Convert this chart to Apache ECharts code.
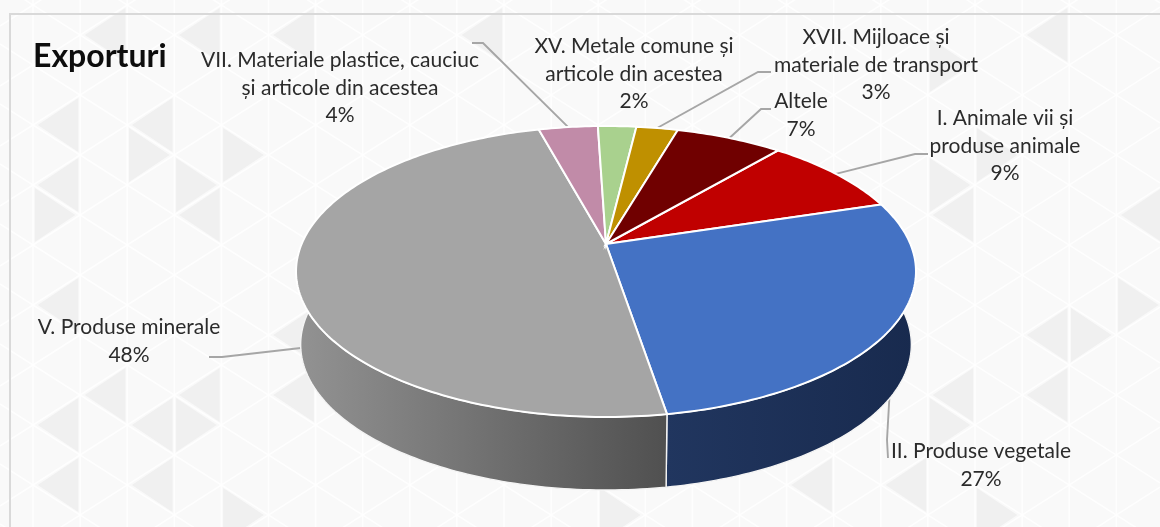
<!DOCTYPE html>
<html>
<head>
<meta charset="utf-8">
<title>Exporturi</title>
<style>
  html, body { margin: 0; padding: 0; background: #f9f9f9; }
  #chart { width: 1160px; height: 527px; }
</style>
</head>
<body>
<div id="chart"></div>
<script src="https://cdn.jsdelivr.net/npm/echarts@6/dist/echarts.min.js"></script>
<script>
// values, order is clockwise from the red slice
const sliceNames = [
  'I. Animale vii și\nproduse animale',
  'II. Produse vegetale',
  'V. Produse minerale',
  'VII. Materiale plastice, cauciuc\nși articole din acestea',
  'XV. Metale comune și\narticole din acestea',
  'XVII. Mijloace și\nmateriale de transport',
  'Altele'
];
const sliceValues = [9.0, 27.2, 48.4, 3.7, 2.4, 2.6, 6.7];

const topColors = ['#c00000', '#4472c4', '#a5a5a5', '#c18ba8', '#a9d18e', '#bf9000', '#700000'];
const wallColors = [null, ['#21365f', '#182a4e'], ['#939393', '#505050'], null, null, null, null];

// label layout: centre of each text block
const labelCentres = [[1005, 146], [981, 465], [129, 341], [340, 88], [634, 74], [876, 65], [801, 115]];
// leader lines: label end, then knee; the last point comes from the slice angle
const leaderKnees = [
  [[928, 154], [915, 154]],
  [[888, 458], [887, 440]],
  [[209, 357], [222, 357]],
  [[472, 43], [483, 43]],
  null,
  [[771, 72], [758, 72]],
  [[771, 109], [761, 109]]
];
const leaderOnWall = [false, true, true, false, false, false, false];

// background triangles: apex column, apex row, direction of the base
const bgTriangles = [
  [1,0,1],[3,0,1],[5,0,1],[9,0,1],[21,0,1],[20,1,-1],[0,2,1],[2,2,1],[3,2,-1],[5,2,-1],[21,2,-1],
  [0,3,1],[4,3,-1],[1,3,-1],[3,3,1],[20,3,-1],[19,3,1],[23,3,1],[0,5,1],[5,5,1],[21,5,1],[23,5,-1],[24,5,-1],
  [1,6,1],[3,6,1],[5,6,1],[19,6,1],[21,6,1],[0,7,1],[2,7,1],[4,7,-1],[20,7,-1],
  [0,8,1],[2,8,1],[5,8,-1],[13,8,-1],[16,8,1],[18,8,1],[21,8,-1]
];

// the pie disc seen in perspective
const apexX = 606, apexY = 244, discA = 304.4, discB = 140.3, discK = 0.189;
const wallDepth = 73, wallScale = 0.985;
const firstAngle = 49.7;

const total = sliceValues.reduce((a, b) => a + b, 0);
const sliceStart = [];
const sliceEnd = [];
let running = firstAngle;
sliceValues.forEach((v) => {
  sliceStart.push(running);
  running -= v / total * 360;
  sliceEnd.push(running);
});

function rimPoint(deg, onWall) {
  const r = deg * Math.PI / 180;
  const u = Math.cos(r), v = Math.sin(r);
  const d = 1 + discK * v;
  const s = onWall ? wallScale : 1;
  return [apexX + s * discA * u / d, apexY + (onWall ? wallDepth : 0) - discB * v / d];
}

function arc(from, to, onWall) {
  const pts = [];
  const n = Math.max(2, Math.ceil(Math.abs(from - to)));
  for (let i = 0; i <= n; i++) {
    pts.push(rimPoint(from + (to - from) * i / n, onWall));
  }
  return pts;
}

function renderLeader(params) {
  const i = params.dataIndex;
  if (!leaderKnees[i]) return null;
  const mid = (sliceStart[i] + sliceEnd[i]) / 2;
  return {
    type: 'polyline',
    shape: { points: leaderKnees[i].concat([rimPoint(mid, leaderOnWall[i])]) },
    style: { stroke: '#a6a6a6', lineWidth: 1.9, fill: null },
    silent: true
  };
}

function renderWall(params) {
  const i = params.dataIndex;
  const a1 = Math.min(sliceStart[i], 5);
  const a2 = Math.max(sliceEnd[i], -185);
  if (a1 <= a2 || !wallColors[i]) return null;
  return {
    type: 'polygon',
    shape: { points: arc(a1, a2, false).concat(arc(a2, a1, true)) },
    style: {
      fill: new echarts.graphic.LinearGradient(0, 0, 1, 0, [
        { offset: 0, color: wallColors[i][0] },
        { offset: 1, color: wallColors[i][1] }
      ]),
      stroke: '#f4f4f4',
      lineWidth: 1.4
    },
    silent: true
  };
}

function renderTop(params) {
  const i = params.dataIndex;
  const pct = Math.round(sliceValues[i] / total * 100) + '%';
  return {
    type: 'group',
    children: [
      {
        type: 'polygon',
        shape: { points: [[apexX, apexY]].concat(arc(sliceStart[i], sliceEnd[i], false)) },
        style: { fill: topColors[i], stroke: '#ffffff', lineWidth: 2 },
        silent: true
      },
      {
        type: 'text',
        x: labelCentres[i][0],
        y: labelCentres[i][1],
        style: {
          text: sliceNames[i] + '\n' + pct,
          fill: '#2b2b2b',
          font: '21px Lato',
          lineHeight: 27.6,
          align: 'center',
          verticalAlign: 'middle'
        },
        silent: true
      }
    ]
  };
}

// background lattice, decoration only
const colStep = 47.1, colStart = 33, rowStep = 60;
function nodeY(c, j) { return (c % 2 ? 35 : 5) + rowStep * j; }
const bgItems = [];
bgTriangles.forEach(([c, j, dir]) => {
  const inset = 3;
  const ax = colStart + c * colStep + dir * inset * 1.6;
  const bx = colStart + (c + dir) * colStep - dir * inset * 0.6;
  const y = nodeY(c, j);
  bgItems.push({
    type: 'polygon',
    silent: true,
    z: 0,
    shape: { points: [[ax, y], [bx, y - rowStep / 2 + inset], [bx, y + rowStep / 2 - inset]] },
    style: { fill: '#f0f0f0' }
  });
});
for (let c = 0; c < 25; c++) {
  const x = colStart + c * colStep;
  bgItems.push({
    type: 'line', silent: true, z: 1,
    shape: { x1: x, y1: 0, x2: x, y2: 527 },
    style: { stroke: '#ffffff', lineWidth: 1.6, opacity: 0.8 }
  });
}
const slope = (rowStep / 2) / colStep;
for (let k = -14; k < 24; k++) {
  const y0 = 5 + rowStep * k - colStart * slope;
  const y1 = 5 + rowStep * k + colStart * slope;
  bgItems.push({
    type: 'line', silent: true, z: 1,
    shape: { x1: 0, y1: y0, x2: 1160, y2: y0 + 1160 * slope },
    style: { stroke: '#ffffff', lineWidth: 1.6, opacity: 0.8 }
  });
  bgItems.push({
    type: 'line', silent: true, z: 1,
    shape: { x1: 0, y1: y1, x2: 1160, y2: y1 - 1160 * slope },
    style: { stroke: '#ffffff', lineWidth: 1.6, opacity: 0.8 }
  });
}
// chart frame
bgItems.push({
  type: 'polyline', silent: true, z: 2,
  shape: { points: [[10, 527], [10, 14], [1160, 14]] },
  style: { stroke: '#d9d9d9', lineWidth: 2, fill: null }
});

const chart = echarts.init(document.getElementById('chart'), null, { renderer: 'canvas' });

chart.setOption({
  animation: false,
  backgroundColor: '#f9f9f9',
  title: {
    text: 'Exporturi',
    left: 28,
    top: 36,
    textStyle: { fontFamily: 'Lato', fontSize: 32, fontWeight: 'bold', color: '#0d0d0d' }
  },
  graphic: { elements: [{ type: 'group', silent: true, children: bgItems }] },
  series: [
    { type: 'custom', coordinateSystem: 'none', z: 3, data: sliceValues, renderItem: renderLeader, silent: true },
    { type: 'custom', coordinateSystem: 'none', z: 4, data: sliceValues, renderItem: renderWall, silent: true },
    { type: 'custom', coordinateSystem: 'none', z: 5, data: sliceValues, renderItem: renderTop, silent: true }
  ]
});

window.addEventListener('resize', () => chart.resize());
</script>
</body>
</html>
